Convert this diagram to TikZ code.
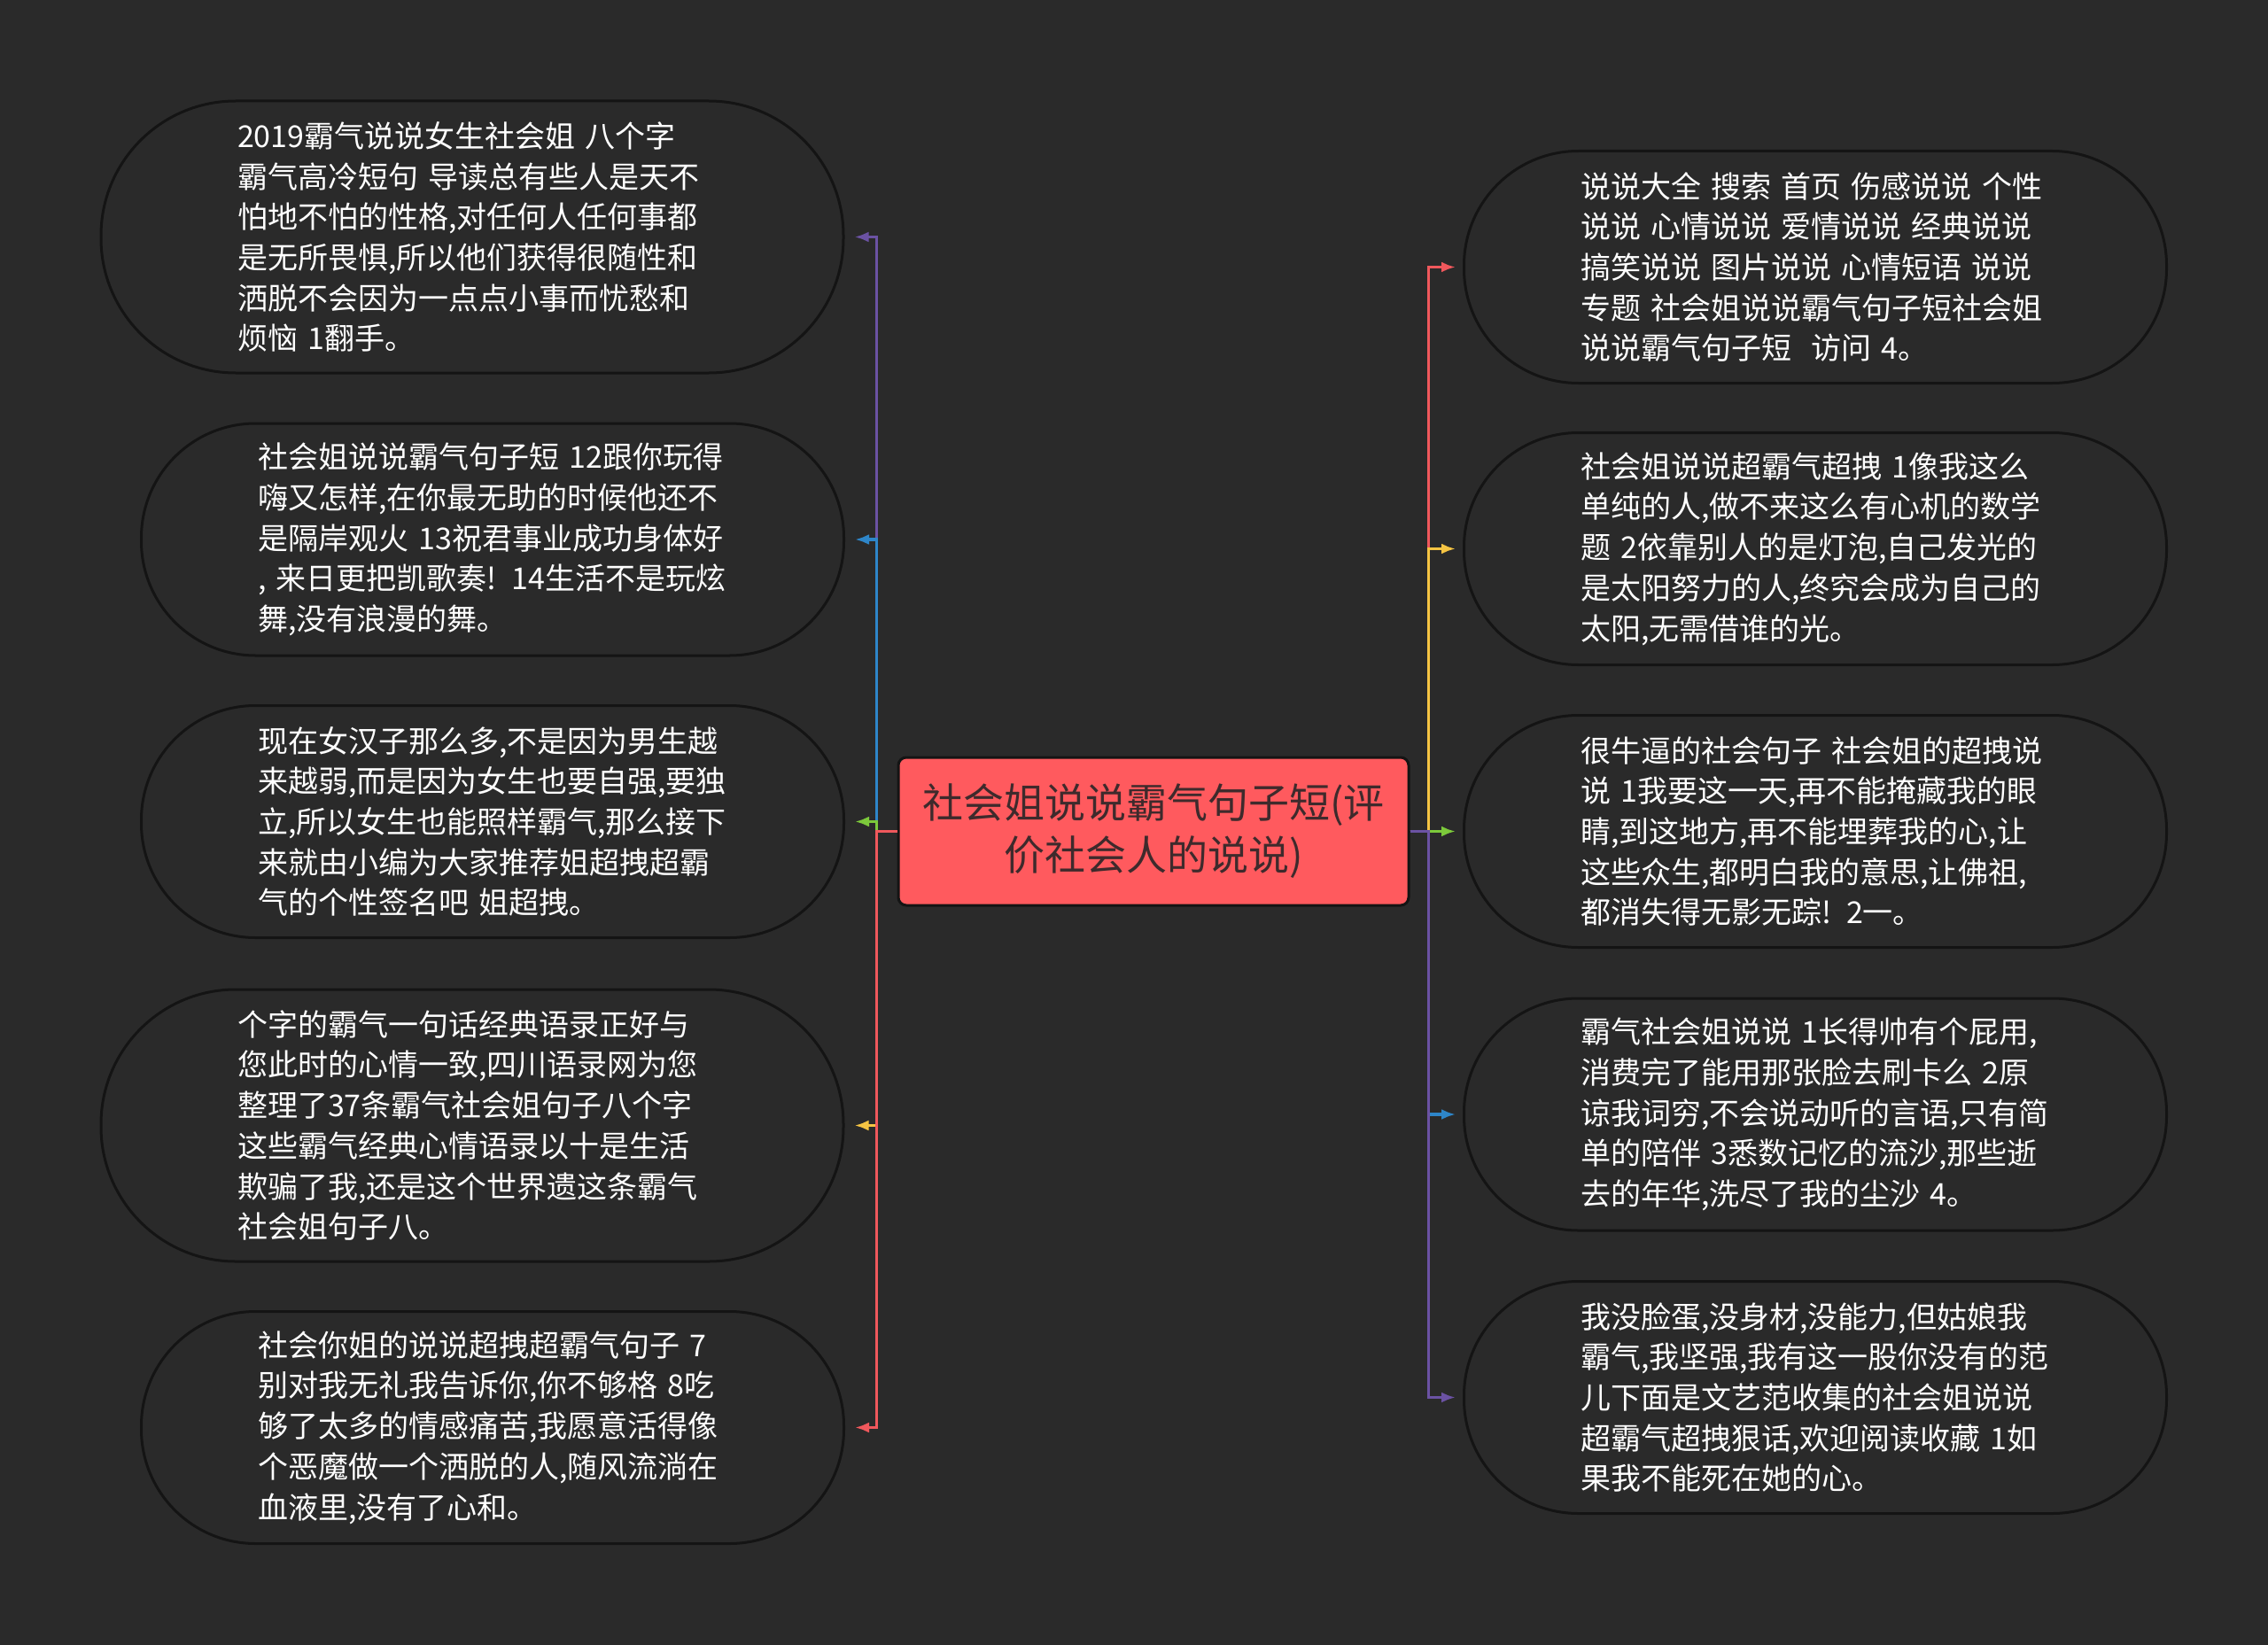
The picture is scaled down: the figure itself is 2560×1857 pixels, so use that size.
\documentclass[tikz,border=0pt]{standalone}
\usepackage{fontspec}
\setmainfont{Noto Sans CJK SC}
\usetikzlibrary{arrows.meta}
\definecolor{bgc}{HTML}{2A2A2A}
\definecolor{edgec}{HTML}{141414}
\definecolor{rootc}{HTML}{FF5A5E}
\definecolor{roottext}{HTML}{3E2A2C}
\definecolor{cpurple}{HTML}{6B52A3}
\definecolor{cblue}{HTML}{2E86C9}
\definecolor{cgreen}{HTML}{7CC93B}
\definecolor{cyellow}{HTML}{F5C443}
\definecolor{cred}{HTML}{F0585C}
\tikzset{
  rootbox/.style={draw=edgec, line width=3pt, fill=rootc, rounded corners=9pt,
    minimum width=576pt, minimum height=167pt, inner sep=0pt, align=center,
    text=roottext, font=\fontsize{46}{59}\selectfont},
  leafbox/.style={draw=edgec, line width=3pt, fill=bgc, text=white,
    align=left, text width=530pt, inner ysep=0pt,
    font=\fontsize{34}{45.7}\selectfont},
  bigleaf/.style={leafbox, minimum width=838pt, minimum height=307pt,
    inner xsep=154pt, rounded corners=152pt},
  smallleaf/.style={leafbox, minimum width=793pt, minimum height=262pt,
    inner xsep=131.5pt, rounded corners=129pt},
  conn/.style={line width=3.5pt, -{Latex[length=16pt,width=12pt]}}
}
\begin{document}
\begin{tikzpicture}[x=1pt,y=-1pt]
\fill[bgc] (0,0) rectangle (2560,1857);
\useasboundingbox (0,0) rectangle (2560,1857);

\node[rootbox] (c) at (1302,938.5) {社会姐说说霸气句子短(评\\价社会人的说说)};

\node[bigleaf] (L1) at (533,267.5) {2019霸气说说女生社会姐 八个字\\霸气高冷短句 导读总有些人是天不\\怕地不怕的性格,对任何人任何事都\\是无所畏惧,所以他们获得很随性和\\洒脱不会因为一点点小事而忧愁和\\烦恼 1翻手。};
\node[smallleaf] (L2) at (556,609) {社会姐说说霸气句子短 12跟你玩得\\嗨又怎样,在你最无助的时候他还不\\是隔岸观火 13祝君事业成功身体好\\, 来日更把凯歌奏! 14生活不是玩炫\\舞,没有浪漫的舞。};
\node[smallleaf] (L3) at (556,927.5) {现在女汉子那么多,不是因为男生越\\来越弱,而是因为女生也要自强,要独\\立,所以女生也能照样霸气,那么接下\\来就由小编为大家推荐姐超拽超霸\\气的个性签名吧 姐超拽。};
\node[bigleaf] (L4) at (533,1270.5) {个字的霸气一句话经典语录正好与\\您此时的心情一致,四川语录网为您\\整理了37条霸气社会姐句子八个字\\这些霸气经典心情语录以十是生活\\欺骗了我,还是这个世界遗这条霸气\\社会姐句子八。};
\node[smallleaf] (L5) at (556,1611.5) {社会你姐的说说超拽超霸气句子 7\\别对我无礼我告诉你,你不够格 8吃\\够了太多的情感痛苦,我愿意活得像\\个恶魔做一个洒脱的人,随风流淌在\\血液里,没有了心和。};

\node[smallleaf] (R1) at (2049,301.5) {说说大全 搜索 首页 伤感说说 个性\\说说 心情说说 爱情说说 经典说说\\搞笑说说 图片说说 心情短语 说说\\专题 社会姐说说霸气句子短社会姐\\说说霸气句子短 \ 访问 4。};
\node[smallleaf] (R2) at (2049,619.5) {社会姐说说超霸气超拽 1像我这么\\单纯的人,做不来这么有心机的数学\\题 2依靠别人的是灯泡,自己发光的\\是太阳努力的人,终究会成为自己的\\太阳,无需借谁的光。};
\node[smallleaf] (R3) at (2049,938.5) {很牛逼的社会句子 社会姐的超拽说\\说 1我要这一天,再不能掩藏我的眼\\睛,到这地方,再不能埋葬我的心,让\\这些众生,都明白我的意思,让佛祖,\\都消失得无影无踪! 2一。};
\node[smallleaf] (R4) at (2049,1258) {霸气社会姐说说 1长得帅有个屁用,\\消费完了能用那张脸去刷卡么 2原\\谅我词穷,不会说动听的言语,只有简\\单的陪伴 3悉数记忆的流沙,那些逝\\去的年华,洗尽了我的尘沙 4。};
\node[smallleaf] (R5) at (2049,1577.5) {我没脸蛋,没身材,没能力,但姑娘我\\霸气,我坚强,我有这一股你没有的范\\儿下面是文艺范收集的社会姐说说\\超霸气超拽狠话,欢迎阅读收藏 1如\\果我不能死在她的心。};

\draw[conn, cpurple] (c.west) -- ++(-23,0) |- ([xshift=11pt]L1.east);
\draw[conn, cblue]   (c.west) -- ++(-23,0) |- ([xshift=11pt]L2.east);
\draw[conn, cgreen]  (c.west) -- ++(-23,0) |- ([xshift=11pt]L3.east);
\draw[conn, cyellow] (c.west) -- ++(-23,0) |- ([xshift=11pt]L4.east);
\draw[conn, cred]    (c.west) -- ++(-23,0) |- ([xshift=11pt]L5.east);

\draw[conn, cred]    (c.east) -- ++(21,0) |- ([xshift=-8pt]R1.west);
\draw[conn, cyellow] (c.east) -- ++(21,0) |- ([xshift=-8pt]R2.west);
\draw[conn, cgreen]  (c.east) -- ++(21,0) |- ([xshift=-8pt]R3.west);
\draw[conn, cblue]   (c.east) -- ++(21,0) |- ([xshift=-8pt]R4.west);
\draw[conn, cpurple] (c.east) -- ++(21,0) |- ([xshift=-8pt]R5.west);
\end{tikzpicture}
\end{document}
